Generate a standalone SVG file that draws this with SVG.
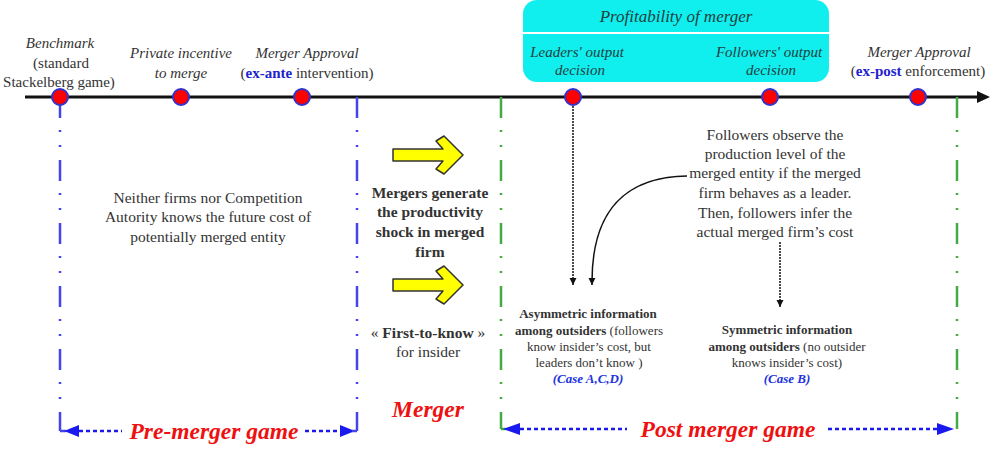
<svg xmlns="http://www.w3.org/2000/svg" width="990" height="455" viewBox="0 0 990 455" font-family="'Liberation Serif', 'DejaVu Serif', serif">
<defs>
<style>
.lbl{font-size:15px;font-style:italic;text-anchor:middle;fill:#333;}
.up{font-size:15px;font-style:normal;text-anchor:middle;fill:#333;}
.reg{font-size:15.5px;text-anchor:middle;fill:#333;}
.bold{font-weight:bold;}
.blue{fill:#2222cc;font-weight:bold;font-style:normal;}
.small{font-size:13px;text-anchor:middle;fill:#333;}
.case{fill:#2233dd;font-weight:bold;font-style:italic;}
.big{font-size:23.5px;font-weight:bold;font-style:italic;fill:#ee1111;text-anchor:middle;}
.cyan{fill:#1f3f3f;font-style:italic;text-anchor:middle;}
.dot{fill:#ff0000;stroke:#3333cc;stroke-width:2;}
.bdash{stroke:#4444ee;stroke-width:2.5;fill:none;stroke-dasharray:21 12 2 13 2 13;}
.gdash{stroke:#44aa44;stroke-width:2.5;fill:none;stroke-dasharray:21 12 2 13 2 13;}
.arr{stroke:#1a1aee;stroke-width:2.5;fill:none;stroke-dasharray:4 3;}
.yarrow{fill:#ffff00;stroke:#333;stroke-width:1.5;stroke-linejoin:round;}
</style>
<marker id="ah" viewBox="0 0 10 10" refX="10" refY="5" markerWidth="7" markerHeight="9" orient="auto" markerUnits="userSpaceOnUse">
<path d="M0,0 L10,5 L0,10 z" fill="#111"/>
</marker>
</defs>

<g id="timeline">
<line x1="25" y1="97" x2="980" y2="97" stroke="#111" stroke-width="3"/>
<path d="M977,91 L990,97 L977,103 z" fill="#111"/>
</g>

<g id="profitability">
<rect x="523" y="0" width="306" height="82" rx="14" fill="#11eeee"/>
<line x1="523" y1="33" x2="829" y2="33" stroke="#ffffff" stroke-width="2"/>
<text class="cyan" x="676" y="22" font-size="17">Profitability of merger</text>
<text class="cyan" x="577" y="57" font-size="15">Leaders' output</text>
<text class="cyan" x="580" y="75" font-size="15">decision</text>
<text class="cyan" x="769" y="57" font-size="15">Followers' output</text>
<text class="cyan" x="771" y="75" font-size="15">decision</text>
</g>

<g id="dividers">
<line class="bdash" x1="60" y1="97" x2="60" y2="431"/>
<line class="bdash" x1="357" y1="97" x2="357" y2="431"/>
<line class="gdash" x1="501" y1="97" x2="501" y2="429"/>
<line class="gdash" x1="957" y1="97" x2="957" y2="429"/>
</g>

<g id="benchmark">
<text class="lbl" x="60" y="48">Benchmark</text>
<text class="up" x="61" y="68">(standard</text>
<text class="up" x="59" y="87">Stackelberg game)</text>
<circle class="dot" cx="60" cy="97" r="8"/>
</g>
<g id="private-incentive">
<text class="lbl" x="181" y="58">Private incentive</text>
<text class="lbl" x="181" y="78">to merge</text>
<circle class="dot" cx="181" cy="97" r="8"/>
</g>
<g id="exante-approval">
<text class="lbl" x="307" y="58">Merger Approval</text>
<text class="up" x="307" y="78">(<tspan class="blue">ex-ante</tspan> intervention)</text>
<circle class="dot" cx="302" cy="97" r="8"/>
</g>
<g id="leaders-decision">
<circle class="dot" cx="573" cy="97" r="8"/>
</g>
<g id="followers-decision">
<circle class="dot" cx="770" cy="97" r="8"/>
</g>
<g id="expost-approval">
<text class="lbl" x="919" y="57">Merger Approval</text>
<text class="up" x="918" y="76">(<tspan class="blue">ex-post</tspan> enforcement)</text>
<circle class="dot" cx="918" cy="97" r="8"/>
</g>

<g id="pre-merger-info">
<text class="reg" x="208" y="203">Neither firms nor Competition</text>
<text class="reg" x="208" y="222">Autority knows the future cost of</text>
<text class="reg" x="208" y="242">potentially merged entity</text>
</g>

<g id="merger-shock">
<path class="yarrow" d="M393,149 L443,149 L436,141 L444,136 L463,155 L444,174 L436,169 L443,161 L393,161 z"/>
<text class="reg bold" x="430" y="198">Mergers generate</text>
<text class="reg bold" x="430" y="217">the productivity</text>
<text class="reg bold" x="430" y="237">shock in merged</text>
<text class="reg bold" x="430" y="257">firm</text>
<path class="yarrow" d="M393,279 L443,279 L436,271 L444,266 L463,285 L444,304 L436,299 L443,291 L393,291 z"/>
<text class="reg" x="428" y="338">« <tspan font-weight="bold">First-to-know</tspan> »</text>
<text class="reg" x="428" y="357">for insider</text>
</g>

<g id="followers-observe">
<text class="reg" x="775" y="140">Followers observe the</text>
<text class="reg" x="775" y="159">production level of the</text>
<text class="reg" x="775" y="178">merged entity if the merged</text>
<text class="reg" x="775" y="198">firm behaves as a leader.</text>
<text class="reg" x="775" y="218">Then, followers infer the</text>
<text class="reg" x="775" y="237">actual merged firm’s cost</text>
</g>

<g id="asymmetric">
<text class="small bold" x="588" y="318">Asymmetric information</text>
<text class="small" x="589" y="335"><tspan font-weight="bold">among outsiders</tspan> (followers</text>
<text class="small" x="589" y="351">know insider’s cost, but</text>
<text class="small" x="589" y="367">leaders  don’t know )</text>
<text class="small case" x="588" y="383">(Case A,C,D)</text>
</g>

<g id="symmetric">
<text class="small bold" x="787" y="334">Symmetric information</text>
<text class="small" x="787" y="351"><tspan font-weight="bold">among outsiders</tspan> (no outsider</text>
<text class="small" x="787" y="367">knows insider’s cost)</text>
<text class="small case" x="787" y="383">(Case B)</text>
</g>

<g id="labels">
<text class="big" x="428" y="417" font-size="22">Merger</text>
<text class="big" x="214" y="439">Pre-merger game</text>
<text class="big" x="728" y="437">Post merger game</text>
</g>

<g id="connectors">
<line x1="573" y1="106" x2="573" y2="285" stroke="#111" stroke-width="1.5" stroke-dasharray="2 1" marker-end="url(#ah)"/>
<path d="M687,176 C630,177 591,205 592,285" stroke="#111" stroke-width="1.5" fill="none" marker-end="url(#ah)"/>
<line x1="780" y1="242" x2="780" y2="307" stroke="#111" stroke-width="1.5" stroke-dasharray="2 1" marker-end="url(#ah)"/>
<path d="M60,431 L66,431" stroke="#4444ee" stroke-width="2.5"/>
<path d="M64,431 L79,425 L79,437 z" fill="#1a1aee"/>
<line class="arr" x1="79" y1="431" x2="122" y2="431"/>
<line class="arr" x1="305" y1="431" x2="340" y2="431"/>
<path d="M355,431 L340,425 L340,437 z" fill="#1a1aee"/>
<path d="M357,431 L352,431" stroke="#4444ee" stroke-width="2.5"/>
<path d="M501,429 L506,429" stroke="#44aa44" stroke-width="2.5"/>
<path d="M503,429 L520,423 L520,435 z" fill="#1a1aee"/>
<line class="arr" x1="520" y1="429" x2="627" y2="429"/>
<line class="arr" x1="828" y1="429" x2="937" y2="429"/>
<path d="M954,429 L937,423 L937,435 z" fill="#1a1aee"/>
</g>
</svg>
